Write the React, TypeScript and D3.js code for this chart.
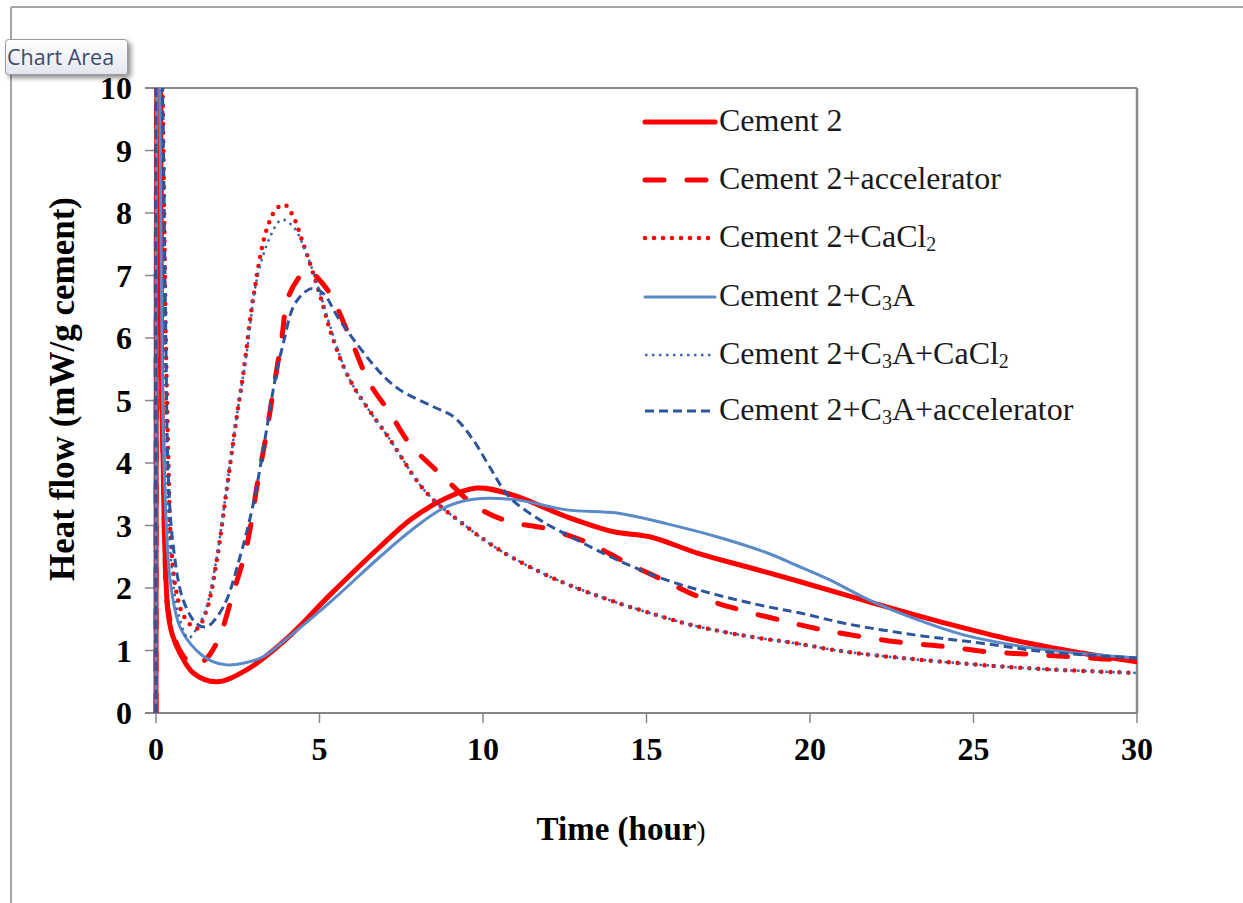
import React from "react";
import * as d3 from "d3";

// ---------- data ----------
const xTicks = [0, 5, 10, 15, 20, 25, 30];
const yTicks = [0, 1, 2, 3, 4, 5, 6, 7, 8, 9, 10];

const cement2T = [0, 0.05, 0.14, 0.17, 0.22, 0.27, 0.37, 0.5, 0.73, 1.14, 1.85, 2.77, 4.0, 5.32, 6.85, 7.8, 8.8, 9.8, 10.9, 12.56, 14, 15.1, 16.6, 18.2, 19.7, 21.8, 24.2, 26.2, 28.3, 30];
const cement2V = [0, 14, 10, 5.33, 4, 2.66, 1.6, 1.25, 0.96, 0.64, 0.5, 0.69, 1.19, 1.89, 2.66, 3.1, 3.42, 3.6, 3.49, 3.14, 2.9, 2.82, 2.55, 2.32, 2.1, 1.78, 1.43, 1.17, 0.96, 0.82];

const accelT = [0, 0.05, 0.14, 0.17, 0.22, 0.27, 0.37, 0.73, 1.14, 1.5, 1.9, 2.36, 2.77, 3.12, 3.38, 3.59, 3.84, 4.05, 4.5, 4.71, 4.91, 5.32, 5.9, 6.54, 7.16, 7.77, 8.79, 9.8, 10.8, 11.95, 13.27, 14.4, 15.5, 16.6, 17.86, 19.3, 20.4, 21.6, 22.96, 24.2, 25.4, 26.7, 27.95, 30];
const accelV = [0, 14, 10, 5.33, 4, 2.66, 1.65, 1.0, 0.77, 0.85, 1.17, 1.92, 2.66, 3.73, 4.48, 5.17, 5.97, 6.66, 7.04, 7.08, 6.98, 6.71, 6.05, 5.27, 4.8, 4.3, 3.78, 3.3, 3.06, 2.95, 2.71, 2.4, 2.13, 1.86, 1.65, 1.46, 1.33, 1.22, 1.12, 1.06, 0.98, 0.94, 0.9, 0.83];

const cacl2T = [0, 0.06, 0.2, 0.3, 0.38, 0.45, 0.6, 0.85, 1.24, 1.55, 1.86, 2.16, 2.47, 2.67, 2.98, 3.38, 3.69, 3.94, 4.2, 4.5, 4.81, 5.12, 5.32, 5.93, 7.16, 8.28, 9.5, 10.5, 12.05, 13.58, 15.1, 16.6, 18.2, 19.5, 21.1, 23.2, 25.2, 27.2, 30];
const cacl2V = [0, 14, 10, 6, 4, 2.8, 2.0, 1.55, 1.35, 1.65, 2.45, 3.57, 4.74, 5.43, 6.66, 7.73, 8.07, 8.13, 7.94, 7.51, 7.03, 6.5, 6.13, 5.33, 4.37, 3.52, 2.98, 2.61, 2.18, 1.86, 1.6, 1.38, 1.22, 1.12, 0.98, 0.86, 0.77, 0.7, 0.64];

const c3aT = [0, 0.04, 0.12, 0.2, 0.3, 0.43, 0.73, 1.24, 1.7, 2.16, 2.7, 3.28, 4.0, 5.32, 6.85, 7.8, 8.8, 9.7, 11.03, 12.56, 14.1, 15.6, 17.15, 18.7, 19.6, 20.6, 21.8, 23.2, 24.7, 26.2, 27.75, 30];
const c3aV = [0, 14, 10, 5, 3.2, 2.13, 1.38, 1.0, 0.83, 0.77, 0.8, 0.9, 1.19, 1.77, 2.5, 2.92, 3.28, 3.42, 3.41, 3.25, 3.2, 3.03, 2.82, 2.56, 2.36, 2.13, 1.81, 1.51, 1.25, 1.09, 0.98, 0.88];

const c3aCacl2T = [0, 0.04, 0.18, 0.3, 0.45, 0.7, 0.99, 1.3, 1.55, 1.86, 2.16, 2.47, 2.77, 3.08, 3.49, 3.84, 4.2, 4.6, 5.0, 5.32, 5.93, 7.16, 8.28, 9.5, 10.5, 12.05, 13.58, 15.1, 16.6, 18.2, 19.5, 21.1, 23.2, 25.2, 27.2, 30];
const c3aCacl2V = [0, 14, 10, 5, 2.5, 1.55, 1.2, 1.4, 1.7, 2.5, 3.6, 4.75, 5.75, 6.93, 7.62, 7.89, 7.78, 7.35, 6.75, 6.2, 5.33, 4.37, 3.52, 2.98, 2.61, 2.18, 1.86, 1.6, 1.38, 1.22, 1.12, 0.98, 0.86, 0.77, 0.7, 0.64];

const c3aAccelT = [0, 0.04, 0.2, 0.3, 0.38, 0.53, 0.83, 1.24, 1.55, 2.06, 2.57, 2.98, 3.38, 3.64, 3.89, 4.2, 4.5, 4.76, 5.12, 5.6, 6.85, 7.46, 8.48, 9.1, 9.7, 10.2, 10.8, 11.74, 12.87, 14.1, 15.6, 17.15, 18.7, 19.7, 21.1, 23.2, 25.2, 27.2, 30];
const c3aAccelV = [0, 14, 10, 6, 3.73, 2.66, 1.81, 1.43, 1.38, 1.7, 2.5, 3.36, 4.53, 5.33, 5.91, 6.5, 6.71, 6.79, 6.71, 6.3, 5.45, 5.17, 4.9, 4.74, 4.37, 3.94, 3.46, 3.09, 2.77, 2.45, 2.13, 1.89, 1.7, 1.6, 1.43, 1.25, 1.12, 0.98, 0.88];

const seriesNames = [
  "Cement 2",
  "Cement 2+accelerator",
  "Cement 2+CaCl2",
  "Cement 2+C3A",
  "Cement 2+C3A+CaCl2",
  "Cement 2+C3A+accelerator",
];

// ---------- styles ----------
const styles = [
  { color: "#ff0000", width: 5, dash: "", cap: "round" },
  { color: "#ff0000", width: 5, dash: "19 23", cap: "round" },
  { color: "#ff0000", width: 4.5, dash: "0 9", cap: "round" },
  { color: "#5a8ac8", width: 3, dash: "", cap: "round" },
  { color: "#3a66b0", width: 2.5, dash: "2.5 4.5", cap: "butt" },
  { color: "#2c559c", width: 3, dash: "9 5", cap: "butt" },
];

const seriesData = [
  [cement2T, cement2V],
  [accelT, accelV],
  [cacl2T, cacl2V],
  [c3aT, c3aV],
  [c3aCacl2T, c3aCacl2V],
  [c3aAccelT, c3aAccelV],
];

const SERIF = "'Liberation Serif', 'Times New Roman', serif";

function LegendLabel({ name }: { name: string }) {
  const parts: React.ReactNode[] = [];
  const re = /(C3A|CaCl2)/g;
  let last = 0;
  let m: RegExpExecArray | null;
  let k = 0;
  while ((m = re.exec(name)) !== null) {
    if (m.index > last) parts.push(<tspan key={k++}>{name.slice(last, m.index)}</tspan>);
    if (m[1] === "C3A") {
      parts.push(<tspan key={k++}>C</tspan>);
      parts.push(<tspan key={k++} fontSize={20} dy={4}>3</tspan>);
      parts.push(<tspan key={k++} dy={-4}>A</tspan>);
    } else {
      parts.push(<tspan key={k++}>CaCl</tspan>);
      parts.push(<tspan key={k++} fontSize={20} dy={4}>2</tspan>);
      parts.push(<tspan key={k++} dy={-4}>{""}</tspan>);
    }
    last = m.index + m[0].length;
  }
  if (last < name.length) parts.push(<tspan key={k++}>{name.slice(last)}</tspan>);
  return <>{parts}</>;
}

export default function App() {
  const W = 1243, H = 903;
  const x = d3.scaleLinear().domain([0, 30]).range([156, 1137]);
  const y = d3.scaleLinear().domain([0, 10]).range([713, 88]);
  const line = d3
    .line<[number, number]>()
    .x((d) => x(d[0]))
    .y((d) => y(d[1]))
    .curve(d3.curveCatmullRom.alpha(0.5));

  const legendY = [122, 180, 238, 297, 355, 411];
  const axisColor = "#868686";

  return (
    <svg
      width={W}
      height={H}
      style={{ position: "absolute", left: 0, top: 0, background: "#fff" }}
    >
      <defs>
        <clipPath id="plotClip">
          <rect x={x(0) - 4} y={y(10)} width={x(30) - x(0) + 4} height={y(0) - y(10)} />
        </clipPath>
        <linearGradient id="tipGrad" x1="0" y1="0" x2="0" y2="1">
          <stop offset="0" stopColor="#ffffff" />
          <stop offset="1" stopColor="#e3e6ee" />
        </linearGradient>
        <filter id="tipShadow" x="-20%" y="-30%" width="150%" height="180%">
          <feGaussianBlur in="SourceAlpha" stdDeviation="2.5" />
          <feOffset dx="3" dy="3" result="b" />
          <feComponentTransfer>
            <feFuncA type="linear" slope="0.45" />
          </feComponentTransfer>
          <feMerge>
            <feMergeNode />
            <feMergeNode in="SourceGraphic" />
          </feMerge>
        </filter>
      </defs>

      {/* outer chart-area frame */}
      <line x1={11} y1={7} x2={W} y2={7} stroke="#a6a6a6" strokeWidth={2} />
      <line x1={11} y1={7} x2={11} y2={H} stroke="#a6a6a6" strokeWidth={2} />

      {/* plot-area border (top & right) */}
      <line x1={145} y1={y(10)} x2={x(30)} y2={y(10)} stroke="#8c8c8c" strokeWidth={2} />
      <line x1={x(30)} y1={y(10)} x2={x(30)} y2={y(0)} stroke="#8c8c8c" strokeWidth={2.5} />

      {/* axes */}
      <line x1={x(0)} y1={y(0)} x2={x(0)} y2={y(10)} stroke={axisColor} strokeWidth={1.5} />
      <line x1={145} y1={y(0)} x2={x(30)} y2={y(0)} stroke={axisColor} strokeWidth={2} />
      {yTicks.map((t) => (
        <g key={"yt" + t}>
          <line x1={145} x2={x(0)} y1={y(t)} y2={y(t)} stroke={axisColor} strokeWidth={1.5} />
          <text
            x={132}
            y={y(t) + 11}
            textAnchor="end"
            fontFamily={SERIF}
            fontWeight="bold"
            fontSize={32}
            fill="#000"
          >
            {t}
          </text>
        </g>
      ))}
      {xTicks.map((t) => (
        <g key={"xt" + t}>
          <line x1={x(t)} x2={x(t)} y1={y(0)} y2={y(0) + 10} stroke={axisColor} strokeWidth={1.5} />
          <text
            x={x(t)}
            y={760}
            textAnchor="middle"
            fontFamily={SERIF}
            fontWeight="bold"
            fontSize={32}
            fill="#000"
          >
            {t}
          </text>
        </g>
      ))}

      {/* axis titles */}
      <text x={621} y={840} textAnchor="middle" fontFamily={SERIF} fontWeight="bold" fontSize={33} fill="#000">
        Time (hour<tspan fontWeight="normal" fontSize={27}>)</tspan>
      </text>
      <text
        transform="translate(74,389) rotate(-90)"
        textAnchor="middle"
        fontFamily={SERIF}
        fontWeight="bold"
        fontSize={35}
        fill="#000"
      >
        Heat flow (mW/g cement)
      </text>

      {/* series */}
      <g clipPath="url(#plotClip)">
        {seriesData.map(([ts, vs], i) => {
          const pts: [number, number][] = ts.map((t, j) => [t, vs[j]]);
          const s = styles[i];
          return (
            <path
              key={"s" + i}
              d={line(pts) || ""}
              fill="none"
              stroke={s.color}
              strokeWidth={s.width}
              strokeDasharray={s.dash || undefined}
              strokeLinecap={s.cap as any}
              strokeLinejoin="round"
            />
          );
        })}
      </g>

      {/* legend */}
      {seriesNames.map((name, i) => {
        const s = styles[i];
        const ly = legendY[i];
        return (
          <g key={"lg" + i}>
            <line
              x1={645}
              x2={i === 0 || i === 3 ? 715 : 711}
              y1={ly}
              y2={ly}
              stroke={s.color}
              strokeWidth={s.width}
              strokeDasharray={s.dash || undefined}
              strokeLinecap={s.cap as any}
            />
            <text x={719} y={ly + 9} fontFamily={SERIF} fontSize={32} fill="#1a1a1a">
              <LegendLabel name={name} />
            </text>
          </g>
        );
      })}

      {/* "Chart Area" tooltip */}
      <g filter="url(#tipShadow)">
        <rect x={5.5} y={39.5} width={122} height={35} rx={3} fill="url(#tipGrad)" stroke="#9c9c9c" strokeWidth={1} />
      </g>
      <text x={7} y={65} fontFamily="'Open Sans', 'Noto Sans', sans-serif" fontSize={21.5} fill="#3f4a6b">
        Chart Area
      </text>
    </svg>
  );
}
